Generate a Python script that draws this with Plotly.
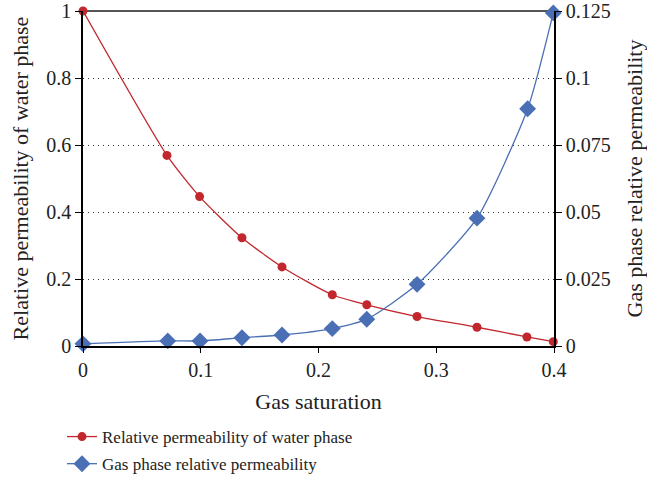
import plotly.graph_objects as go

gas_sat_w = [0.0, 0.0713, 0.099, 0.135, 0.169, 0.2117, 0.241, 0.2837, 0.3346, 0.377, 0.3994]
krw = [1.0, 0.569, 0.446, 0.323, 0.236, 0.153, 0.123, 0.088, 0.056, 0.027, 0.013]

gas_sat_g = [0.0, 0.072, 0.0994, 0.135, 0.169, 0.2117, 0.241, 0.2837, 0.3346, 0.3776, 0.3994]
krg = [0.0008, 0.0019, 0.0019, 0.0031, 0.0041, 0.0065, 0.0100, 0.0230, 0.0477, 0.0885, 0.1243]

x_ticks = [0, 0.1, 0.2, 0.3, 0.4]
x_labels = ["0", "0.1", "0.2", "0.3", "0.4"]
y_ticks = [0, 0.2, 0.4, 0.6, 0.8, 1.0]
y_labels = ["0", "0.2", "0.4", "0.6", "0.8", "1"]
y2_ticks = [0, 0.025, 0.05, 0.075, 0.1, 0.125]
y2_labels = ["0", "0.025", "0.05", "0.075", "0.1", "0.125"]

red = "#c1272d"
blue = "#4a6fb5"
font = "Times New Roman, Liberation Serif, serif"
tick_font = dict(family=font, size=20, color="#222222")
title_font = dict(family=font, size=22, color="#222222")

fig = go.Figure()
fig.add_trace(go.Scatter(
    x=gas_sat_w, y=krw, mode="lines+markers", name="Relative permeability of water phase",
    legendgroup="w",
    line=dict(color=red, width=1.3, shape="spline", smoothing=0.6),
    marker=dict(symbol="circle", size=9, color=red), cliponaxis=False, yaxis="y"))
fig.add_trace(go.Scatter(
    x=gas_sat_g, y=krg, mode="lines+markers", name="Gas phase relative permeability",
    legendgroup="g",
    line=dict(color=blue, width=1.3, shape="spline", smoothing=0.6),
    marker=dict(symbol="diamond", size=13, color=blue), cliponaxis=False, yaxis="y2"))

fig.add_shape(type="line", xref="paper", yref="paper", x0=0, x1=1, y0=1, y1=1,
              line=dict(color="#555555", width=2), layer="below")

fig.update_layout(
    width=647, height=483,
    margin=dict(l=83, r=93, t=11, b=137, autoexpand=False),
    paper_bgcolor="white", plot_bgcolor="white",
    font=dict(family=font, size=17, color="#222222"),
    xaxis=dict(range=[0, 0.4], tickvals=x_ticks, ticktext=x_labels, showgrid=False, zeroline=False,
               showline=True, linecolor="black", linewidth=1.5, automargin=False,
               ticks="outside", ticklen=5, tickcolor="black", tickfont=tick_font,
               title=dict(text="Gas saturation", font=title_font, standoff=14)),
    yaxis=dict(range=[0, 1], tickvals=y_ticks, ticktext=y_labels, automargin=False,
               showgrid=True, gridcolor="#333333", griddash="1px,4px",
               gridwidth=1, zeroline=False, showline=True, linecolor="black", linewidth=1.5,
               ticks="outside", ticklen=6, tickcolor="black", tickfont=tick_font,
               ticklabeloverflow="allow",
               title=dict(text="Relative permeability of water phase", font=title_font, standoff=12)),
    yaxis2=dict(range=[0, 0.125], tickvals=y2_ticks, ticktext=y2_labels, overlaying="y", side="right",
                automargin=False,
                showgrid=False, zeroline=False, showline=True, linecolor="black", linewidth=1.5,
                ticks="outside", ticklen=6, tickcolor="black", tickfont=tick_font,
                ticklabeloverflow="allow",
                title=dict(text="Gas phase relative permeability", font=title_font, standoff=21)),
    legend=dict(x=-0.0446, xanchor="left", y=-0.218, yanchor="top", traceorder="grouped",
                font=dict(family=font, size=17, color="#222222"), bgcolor="rgba(0,0,0,0)", tracegroupgap=2),
    showlegend=True,
)

fig.write_html("out.html")
